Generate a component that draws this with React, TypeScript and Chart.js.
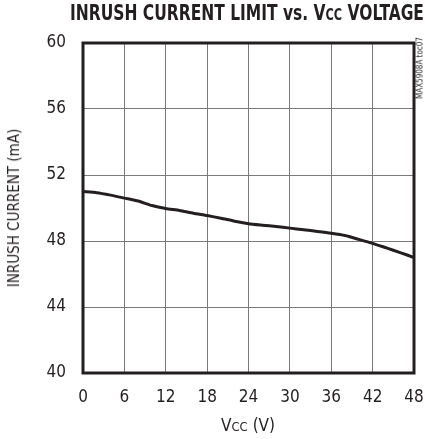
import React, { useEffect, useLayoutEffect, useRef } from "react";
import { Chart, registerables } from "chart.js";

Chart.register(...registerables);

const vcc = [0, 2, 4, 6, 8, 10, 12, 14, 16, 18, 20, 22, 24, 26, 28, 30, 32, 34, 36, 38, 40, 42, 44, 46, 48];
const current = [51.0, 50.93, 50.78, 50.6, 50.42, 50.15, 49.97, 49.85, 49.68, 49.54, 49.38, 49.2, 49.05, 48.96, 48.88, 48.78, 48.68, 48.58, 48.47, 48.33, 48.1, 47.86, 47.58, 47.3, 47.0];
const xTicks = [0, 6, 12, 18, 24, 30, 36, 42, 48];
const yTicks = [40, 44, 48, 52, 56, 60];

const FONT = "'Liberation Sans Narrow', 'DejaVu Sans Condensed', 'Liberation Sans', Arial, sans-serif";

const borderPlugin = {
  id: "plotBorder",
  afterDatasetsDraw(chart: any) {
    const { ctx, chartArea } = chart;
    ctx.save();
    ctx.strokeStyle = "#231f20";
    ctx.lineWidth = 3;
    ctx.strokeRect(chartArea.left, chartArea.top, chartArea.right - chartArea.left, chartArea.bottom - chartArea.top);
    ctx.restore();
  },
};

export default function App() {
  const ref = useRef<HTMLCanvasElement>(null);
  const titleRef = useRef<HTMLDivElement>(null);

  useLayoutEffect(() => {
    const el = titleRef.current;
    if (!el) return;
    const w = el.scrollWidth;
    if (w > 0) el.style.transform = `scaleX(${354 / w})`;
  }, []);

  useEffect(() => {
    if (!ref.current) return;
    const chart = new Chart(ref.current, {
      type: "line",
      data: {
        datasets: [
          {
            data: vcc.map((v, i) => ({ x: v, y: current[i] })),
            borderColor: "#231f20",
            borderWidth: 3,
            pointRadius: 0,
            tension: 0.2,
            fill: false,
          },
        ],
      },
      options: {
        animation: false,
        responsive: false,
        maintainAspectRatio: false,
        layout: { padding: { left: 0, top: 43, right: 0, bottom: 0 } },
        plugins: { legend: { display: false }, tooltip: { enabled: false }, title: { display: false } },
        scales: {
          x: {
            type: "linear",
            min: 0,
            max: 48,
            afterBuildTicks: (s: any) => { s.ticks = xTicks.map((v) => ({ value: v })); },
            afterFit: (s: any) => { s.height = 66; s.paddingRight = 11; },
            grid: { color: "#7a7a7a", lineWidth: 1, drawTicks: false },
            border: { display: false },
            ticks: { color: "#231f20", font: { family: FONT, size: 17 }, padding: 14, maxRotation: 0 },
            title: { display: false },
          },
          y: {
            type: "linear",
            min: 40,
            max: 60,
            afterBuildTicks: (s: any) => { s.ticks = yTicks.map((v) => ({ value: v })); },
            afterFit: (s: any) => { s.width = 83; },
            grid: { color: "#7a7a7a", lineWidth: 1, drawTicks: false },
            border: { display: false },
            ticks: { color: "#231f20", font: { family: FONT, size: 17 }, padding: 17 },
            title: { display: false },
          },
        },
      },
      plugins: [borderPlugin],
    });
    return () => chart.destroy();
  }, []);

  return (
    <div style={{ position: "fixed", left: 0, top: 0, width: 425, height: 439, background: "#fff", overflow: "hidden" }}>
      <canvas ref={ref} width={425} height={439} style={{ position: "absolute", left: 0, top: 0 }} />
      <div
        ref={titleRef}
        style={{
          position: "absolute",
          left: 70,
          top: 1,
          whiteSpace: "nowrap",
          fontFamily: FONT,
          fontWeight: "bold",
          fontSize: 22,
          color: "#231f20",
          lineHeight: "24px",
          transformOrigin: "0 0",
        }}
      >
        INRUSH CURRENT LIMIT vs. V<span style={{ fontSize: 16 }}>CC</span> VOLTAGE
      </div>
      <div
        style={{
          position: "absolute",
          left: 248,
          top: 415,
          transform: "translateX(-50%)",
          whiteSpace: "nowrap",
          fontFamily: FONT,
          fontSize: 17,
          color: "#231f20",
          lineHeight: "20px",
        }}
      >
        V<span style={{ fontSize: 13 }}>CC</span> (V)
      </div>
      <div
        style={{
          position: "absolute",
          left: 14,
          top: 208,
          transform: "translate(-50%, -50%) rotate(-90deg)",
          whiteSpace: "nowrap",
          fontFamily: FONT,
          fontSize: 15,
          color: "#231f20",
          lineHeight: "18px",
        }}
      >
        INRUSH CURRENT (mA)
      </div>
      <div
        style={{
          position: "absolute",
          left: 420,
          top: 68,
          transform: "translate(-50%, -50%) rotate(-90deg)",
          whiteSpace: "nowrap",
          fontFamily: FONT,
          fontSize: 8,
          color: "#231f20",
          lineHeight: "9px",
        }}
      >
        MAX5908A toc07
      </div>
    </div>
  );
}
